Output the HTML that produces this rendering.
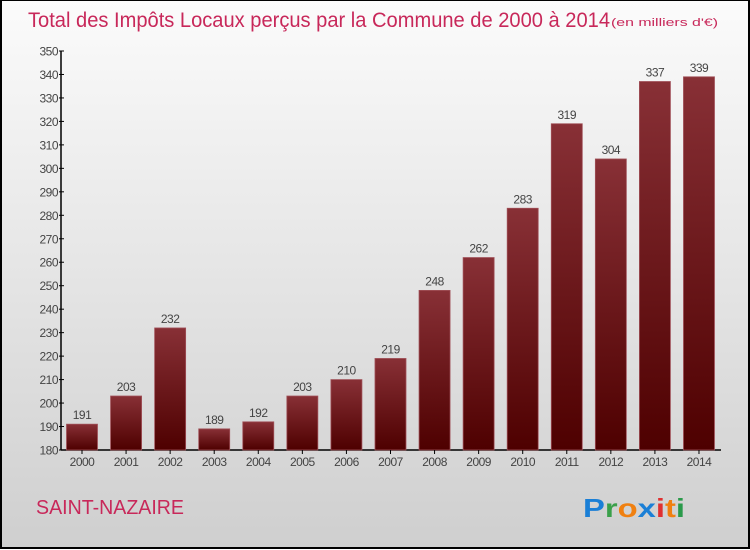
<!DOCTYPE html>
<html><head><meta charset="utf-8"><style>
html,body{margin:0;padding:0}
body{width:750px;height:550px;overflow:hidden;font-family:"Liberation Sans",sans-serif}
#frame{position:absolute;left:0;top:0;width:746px;height:546px;border:2px solid #000;border-top-width:1px;background:linear-gradient(#fbfbfb,#cfcfcf)}
</style></head><body>
<div id="frame"></div>
<svg id="chart" width="750" height="550" style="position:absolute;left:0;top:0">
<defs>
<linearGradient id="bg" x1="0" y1="0" x2="0" y2="1"><stop offset="0" stop-color="#883036"/><stop offset="1" stop-color="#4e0000"/></linearGradient>
</defs>
<text x="28" y="27" font-size="21" fill="#c8285a" textLength="582" lengthAdjust="spacingAndGlyphs">Total des Impôts Locaux perçus par la Commune de 2000 à 2014</text>
<text x="611" y="26" font-size="11" fill="#c8285a" textLength="107" lengthAdjust="spacingAndGlyphs">(en milliers d'€)</text>
<text x="36" y="514" font-size="20" fill="#c8285a" textLength="148" lengthAdjust="spacingAndGlyphs">SAINT-NAZAIRE</text>
<text x="583" y="517" font-size="26" font-weight="bold" textLength="102" lengthAdjust="spacingAndGlyphs"><tspan fill="#1a7fd6">P</tspan><tspan fill="#3aa04a">r</tspan><tspan fill="#f08010">o</tspan><tspan fill="#1a7fd6">x</tspan><tspan fill="#e03030">i</tspan><tspan fill="#f08010">t</tspan><tspan fill="#2a9a4a">i</tspan></text>
<g id="plot"></g>
</svg>
<script>
const years=["2000","2001","2002","2003","2004","2005","2006","2007","2008","2009","2010","2011","2012","2013","2014"];
const values=[191,203,232,189,192,203,210,219,248,262,283,319,304,337,339];
const yTicks=[180,190,200,210,220,230,240,250,260,270,280,290,300,310,320,330,340,350];
const NS="http://www.w3.org/2000/svg";
const g=document.getElementById('plot');
const x0=61,x1=721,yTop=51,yBot=450,vMin=180,vMax=350;
const y=v=>yBot-(v-vMin)/(vMax-vMin)*(yBot-yTop);
const step=44.07,first=82,bw=31;
const xc=i=>first+i*step;
function mk(t,a){const e=document.createElementNS(NS,t);for(const k in a)e.setAttribute(k,a[k]);g.appendChild(e);return e;}
let ax=mk('line',{x1:x0,y1:yTop,x2:x0,y2:yBot,stroke:'#000','stroke-width':1.5});


let bx=mk('line',{x1:x0,y1:yBot,x2:x1,y2:yBot,stroke:'#000','stroke-width':1.5});


yTicks.forEach(v=>{
 const tk=mk('line',{x1:x0-2,y1:y(v),x2:x0+3,y2:y(v),stroke:'#000'});
 
 
 const t=mk('text',{x:x0-3,y:y(v)+4.5,'font-size':12,fill:'#444','text-anchor':'end','letter-spacing':'-0.5'});
 t.textContent=v;
 
 
});
values.forEach((v,i)=>{
 const r=mk('rect',{x:xc(i)-bw/2,y:y(v),width:bw,height:yBot-y(v),fill:'url(#bg)',stroke:'#a05058','stroke-width':0.8});
 
 
 const t=mk('text',{x:xc(i),y:y(v)-5,'font-size':12,fill:'#444','text-anchor':'middle','letter-spacing':'-0.5'});
 t.textContent=v;
 
 
 const tk=mk('line',{x1:xc(i),y1:yBot,x2:xc(i),y2:yBot+4,stroke:'#000'});
 
 
 const l=mk('text',{x:xc(i),y:yBot+16,'font-size':12,fill:'#444','text-anchor':'middle','letter-spacing':'-0.5'});
 l.textContent=years[i];
 
 
});
</script>
</body></html>
